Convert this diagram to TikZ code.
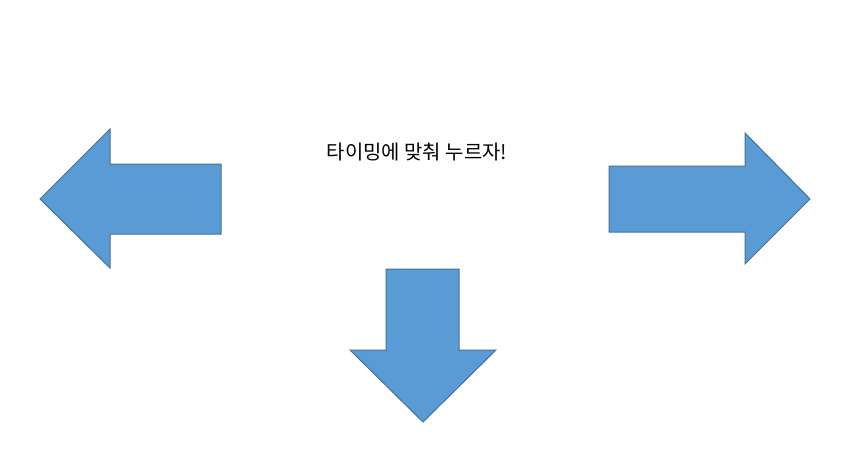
\documentclass[tikz,border=0pt]{standalone}
\usepackage{fontspec}
\newfontfamily\kr{Noto Sans CJK KR}
\definecolor{arrowfill}{HTML}{5B9BD5}
\definecolor{arrowline}{HTML}{41719C}
\tikzset{
  bigarrow/.style={fill=arrowfill, draw=arrowline, line width=1pt, line join=miter},
  caption/.style={font=\kr\fontsize{19.9}{22}\selectfont, text=black, inner sep=0pt}
}
\begin{document}
\begin{tikzpicture}[x=1pt,y=-1pt]
\useasboundingbox (0,0) rectangle (850,463);
% left arrow
\draw[bigarrow] (40,199) -- (110,129) -- (110,164) -- (221,164) -- (221,234) -- (110,234) -- (110,268) -- cycle;
% right arrow
\draw[bigarrow] (810,199) -- (745,133) -- (745,166) -- (609,166) -- (609,232) -- (745,232) -- (745,264) -- cycle;
% down arrow
\draw[bigarrow] (423,422) -- (350,350) -- (386,350) -- (386,269) -- (459,269) -- (459,350) -- (496,350) -- cycle;
% text
\node[caption] (title) at (417,152) {타이밍에 맞춰 누르자!};
\end{tikzpicture}
\end{document}
